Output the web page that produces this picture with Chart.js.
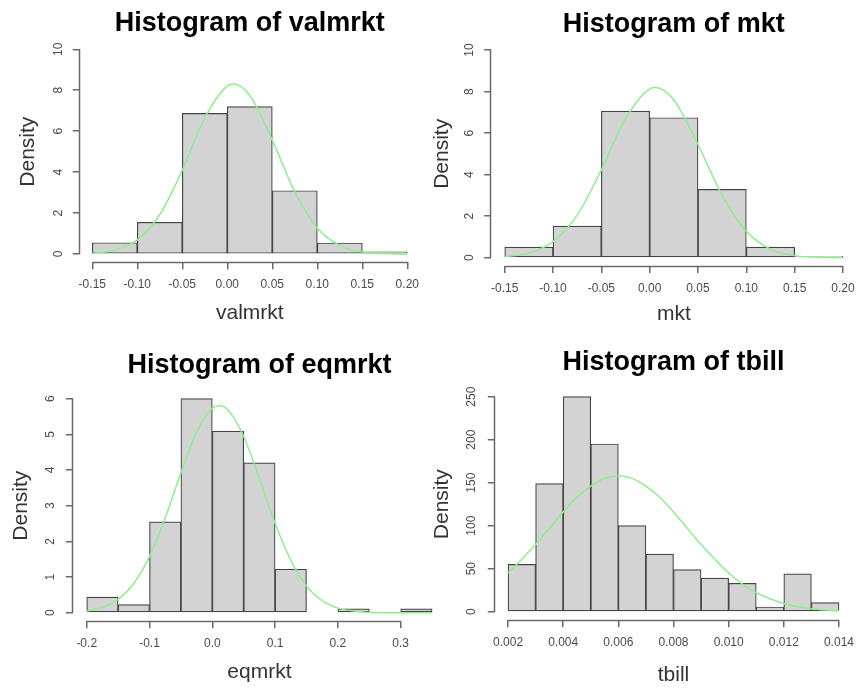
<!DOCTYPE html>
<html>
<head>
<meta charset="utf-8">
<script src="https://cdn.jsdelivr.net/npm/chart.js@4.4.1/dist/chart.umd.min.js"></script>
<style>
  html, body { margin: 0; padding: 0; background: #fff; width: 856px; height: 688px; overflow: hidden; }
  canvas { position: absolute; }
</style>
</head>
<body>
<canvas id="cValmrkt"></canvas>
<canvas id="cMkt"></canvas>
<canvas id="cEqmrkt"></canvas>
<canvas id="cTbill"></canvas>
<script>
// ---------------------------------------------------------------
// Data
// ---------------------------------------------------------------
const valmrktBreaks  = [-0.15, -0.10, -0.05, 0.00, 0.05, 0.10, 0.15, 0.20];
const valmrktDensity = [0.55, 1.55, 6.87, 7.20, 3.09, 0.54, 0.11];
const valmrktCurveX  = [-0.15, -0.125, -0.10, -0.075, -0.05, -0.025, 0, 0.007, 0.025, 0.05, 0.075, 0.10, 0.125, 0.15, 0.175, 0.20];
const valmrktCurveY  = [0.04, 0.19, 0.69, 1.93, 4.10, 6.65, 8.21, 8.30, 7.74, 5.56, 3.04, 1.27, 0.41, 0.10, 0.02, 0.00];
const valmrktXTicks  = [-0.15, -0.10, -0.05, 0.00, 0.05, 0.10, 0.15, 0.20];
const valmrktYTicks  = [0, 2, 4, 6, 8, 10];

const mktBreaks  = [-0.15, -0.10, -0.05, 0.00, 0.05, 0.10, 0.15, 0.20];
const mktDensity = [0.51, 1.52, 7.06, 6.74, 3.29, 0.51, 0.07];
const mktCurveX  = [-0.15, -0.125, -0.10, -0.075, -0.05, -0.025, 0, 0.006, 0.025, 0.05, 0.075, 0.10, 0.125, 0.15, 0.175, 0.20];
const mktCurveY  = [0.05, 0.22, 0.77, 2.05, 4.23, 6.69, 8.13, 8.19, 7.59, 5.45, 3.00, 1.27, 0.41, 0.10, 0.02, 0.00];
const mktXTicks  = [-0.15, -0.10, -0.05, 0.00, 0.05, 0.10, 0.15, 0.20];
const mktYTicks  = [0, 2, 4, 6, 8, 10];

const eqmrktBreaks  = [-0.20, -0.15, -0.10, -0.05, 0.00, 0.05, 0.10, 0.15, 0.20, 0.25, 0.30, 0.35];
const eqmrktDensity = [0.44, 0.23, 2.55, 6.00, 5.09, 4.20, 1.22, 0, 0.11, 0, 0.11];
const eqmrktCurveX  = [-0.2, -0.175, -0.15, -0.125, -0.1, -0.075, -0.05, -0.025, 0, 0.011, 0.025, 0.05, 0.075, 0.1, 0.125, 0.15, 0.175, 0.2, 0.225, 0.25, 0.275, 0.3, 0.325, 0.35];
const eqmrktCurveY  = [0.05, 0.15, 0.38, 0.82, 1.58, 2.66, 3.92, 5.06, 5.73, 5.80, 5.68, 4.94, 3.76, 2.51, 1.47, 0.75, 0.34, 0.13, 0.05, 0.01, 0, 0, 0, 0];
const eqmrktXTicks  = [-0.2, -0.1, 0.0, 0.1, 0.2, 0.3];
const eqmrktYTicks  = [0, 1, 2, 3, 4, 5, 6];

const tbillBreaks  = [0.002, 0.003, 0.004, 0.005, 0.006, 0.007, 0.008, 0.009, 0.010, 0.011, 0.012, 0.013, 0.014];
const tbillDensity = [55, 149, 250, 195, 100, 67, 49, 39, 33, 5.5, 44, 10.5];
const tbillCurveX  = [0.002, 0.0025, 0.003, 0.0035, 0.004, 0.0045, 0.005, 0.0055, 0.006, 0.0065, 0.007, 0.0075, 0.008, 0.0085, 0.009, 0.0095, 0.010, 0.0105, 0.011, 0.0115, 0.012, 0.0125, 0.013, 0.0135, 0.014];
const tbillCurveY  = [45, 61, 78, 97, 116, 133, 146, 155, 158, 155, 146, 133, 116, 97, 78, 61, 45, 32, 22, 15, 9.5, 5.8, 3.4, 2.0, 1.1];
const tbillXTicks  = [0.002, 0.004, 0.006, 0.008, 0.010, 0.012, 0.014];
const tbillYTicks  = [0, 50, 100, 150, 200, 250];

// ---------------------------------------------------------------
// Look
// ---------------------------------------------------------------
const FONT = "'Liberation Sans', Arial, sans-serif";
const TITLE_SIZE = 27;
const LAB_SIZE = 21;
const TICK_SIZE = 12;
const TICK_LEN = 7;
const AXIS_COLOR = "#6a6a6a";
const BAR_FILL = "#d3d3d3";
const BAR_EDGE = "#454545";
const CURVE_COLOR = "#90ee90";

// page boxes of each panel: canvas box, R plot region, text anchors
const panels = [
  { id: "cValmrkt", name: "valmrkt", breaks: valmrktBreaks, dens: valmrktDensity, cx: valmrktCurveX, cy: valmrktCurveY,
    xTicks: valmrktXTicks, yTicks: valmrktYTicks, xDec: 2,
    box: { l: 0, t: 0, w: 428, h: 340 }, plot: { l: 79.7, r: 419.9, t: 41.1, b: 262.2 },
    xRange: [-0.164, 0.214], yRange: [-0.4, 10.4], titleY: 23.5, densX: 28.3, xlabY: 313, yTickOff: 21 },
  { id: "cMkt", name: "mkt", breaks: mktBreaks, dens: mktDensity, cx: mktCurveX, cy: mktCurveY,
    xTicks: mktXTicks, yTicks: mktYTicks, xDec: 2,
    box: { l: 428, t: 0, w: 440, h: 340 }, plot: { l: 491.2, r: 856.5, t: 41.7, b: 266.0 },
    xRange: [-0.164, 0.214], yRange: [-0.4, 10.4], titleY: 25, densX: 441.8, xlabY: 314, yTickOff: 21.5 },
  { id: "cEqmrkt", name: "eqmrkt", breaks: eqmrktBreaks, dens: eqmrktDensity, cx: eqmrktCurveX, cy: eqmrktCurveY,
    xTicks: eqmrktXTicks, yTicks: eqmrktYTicks, xDec: 1,
    box: { l: 0, t: 340, w: 470, h: 352 }, plot: { l: 72.9, r: 445.9, t: 390.1, b: 621.3 },
    xRange: [-0.222, 0.372], yRange: [-0.24, 6.24], titleY: 365.3, densX: 20.8, xlabY: 672, yTickOff: 22.5 },
  { id: "cTbill", name: "tbill", breaks: tbillBreaks, dens: tbillDensity, cx: tbillCurveX, cy: tbillCurveY,
    xTicks: tbillXTicks, yTicks: tbillYTicks, xDec: 3,
    box: { l: 428, t: 340, w: 440, h: 352 }, plot: { l: 494.8, r: 852.2, t: 388.1, b: 620.3 },
    xRange: [0.00152, 0.01448], yRange: [-10, 260], titleY: 363, densX: 442.2, xlabY: 675, yTickOff: 23 }
];

// R style axes: line only from first to last tick, set off from the bars
const rAxes = {
  id: "rAxes",
  afterDraw(chart) {
    const { ctx, chartArea, scales: { x, y } } = chart;
    const xt = x.ticks, yt = y.ticks;
    const yb = Math.round(chartArea.bottom) + 0.5;
    const xl = Math.round(chartArea.left) - 0.5;
    ctx.save();
    ctx.strokeStyle = AXIS_COLOR;
    ctx.lineWidth = 1.5;
    ctx.beginPath();
    ctx.moveTo(x.getPixelForValue(xt[0].value), yb);
    ctx.lineTo(x.getPixelForValue(xt[xt.length - 1].value), yb);
    ctx.moveTo(xl, y.getPixelForValue(yt[0].value));
    ctx.lineTo(xl, y.getPixelForValue(yt[yt.length - 1].value));
    ctx.stroke();
    ctx.restore();
  }
};

const measureCtx = document.createElement("canvas").getContext("2d");
measureCtx.font = TICK_SIZE + "px " + FONT;

function makePanel(p) {
  const canvas = document.getElementById(p.id);
  canvas.width = p.box.w;
  canvas.height = p.box.h;
  canvas.style.left = p.box.l + "px";
  canvas.style.top = p.box.t + "px";

  const titleLH = TITLE_SIZE * 1.2;
  const labLH = LAB_SIZE * 1.2;
  const titlePadTop = p.titleY - p.box.t - titleLH / 2;
  const titlePadBottom = (p.plot.t - p.box.t) - titleLH - titlePadTop;
  const widest = Math.max(...p.yTicks.map(v => measureCtx.measureText(String(v)).width));

  const bars = p.dens.map((d, i) => ({ x: (p.breaks[i] + p.breaks[i + 1]) / 2, y: d }));
  const curve = p.cx.map((x, i) => ({ x: x, y: p.cy[i] }));

  new Chart(canvas, {
    type: "bar",
    data: {
      datasets: [
        {
          type: "line",
          data: curve,
          borderColor: CURVE_COLOR,
          borderWidth: 1.5,
          pointRadius: 0,
          fill: false,
          cubicInterpolationMode: "monotone",
          order: 0
        },
        {
          data: bars,
          backgroundColor: BAR_FILL,
          borderColor: BAR_EDGE,
          borderWidth: 1.2,
          borderSkipped: false,
          barPercentage: 1,
          categoryPercentage: 1,
          order: 1
        }
      ]
    },
    options: {
      responsive: false,
      animation: false,
      devicePixelRatio: 1,
      layout: { padding: { left: 0, top: 0, bottom: 0, right: p.box.w - (p.plot.r - p.box.l) } },
      plugins: {
        legend: { display: false },
        tooltip: { enabled: false },
        title: {
          display: true,
          fullSize: false,
          text: "Histogram of " + p.name,
          color: "#000",
          font: { family: FONT, size: TITLE_SIZE, weight: "bold", lineHeight: 1.2 },
          padding: { top: titlePadTop, bottom: titlePadBottom }
        }
      },
      scales: {
        x: {
          type: "linear",
          offset: false,
          min: p.xRange[0],
          max: p.xRange[1],
          afterBuildTicks: s => { s.ticks = p.xTicks.map(v => ({ value: v })); },
          afterFit: s => { s.height = p.box.t + p.box.h - p.plot.b; },
          grid: { display: true, offset: false, drawOnChartArea: false, drawTicks: true, tickLength: TICK_LEN, lineWidth: 1.5, color: AXIS_COLOR, tickColor: AXIS_COLOR },
          border: { display: false },
          ticks: {
            autoSkip: false, maxRotation: 0, minRotation: 0, padding: 8,
            color: "#4a4a4a", font: { family: FONT, size: TICK_SIZE },
            callback: v => Number(v).toFixed(p.xDec)
          },
          title: {
            display: true, text: p.name, color: "#333",
            font: { family: FONT, size: LAB_SIZE, lineHeight: 1.2 },
            padding: { top: 0, bottom: p.box.t + p.box.h - p.xlabY - labLH / 2 }
          }
        },
        y: {
          type: "linear",
          min: p.yRange[0],
          max: p.yRange[1],
          afterBuildTicks: s => { s.ticks = p.yTicks.map(v => ({ value: v })); },
          afterFit: s => { s.width = p.plot.l - p.box.l; },
          grid: { display: true, drawOnChartArea: false, drawTicks: true, tickLength: TICK_LEN, lineWidth: 1.5, color: AXIS_COLOR, tickColor: AXIS_COLOR },
          border: { display: false },
          ticks: {
            autoSkip: false, minRotation: 90, maxRotation: 90, crossAlign: "center",
            padding: p.yTickOff - TICK_LEN - widest / 2,
            color: "#4a4a4a", font: { family: FONT, size: TICK_SIZE },
            callback: v => String(v)
          },
          title: {
            display: true, text: "Density", color: "#333",
            font: { family: FONT, size: LAB_SIZE, lineHeight: 1.2 },
            padding: { top: p.densX - p.box.l - labLH / 2, bottom: 0 }
          }
        }
      }
    },
    plugins: [rAxes]
  });
}

panels.forEach(makePanel);
</script>
</body>
</html>
